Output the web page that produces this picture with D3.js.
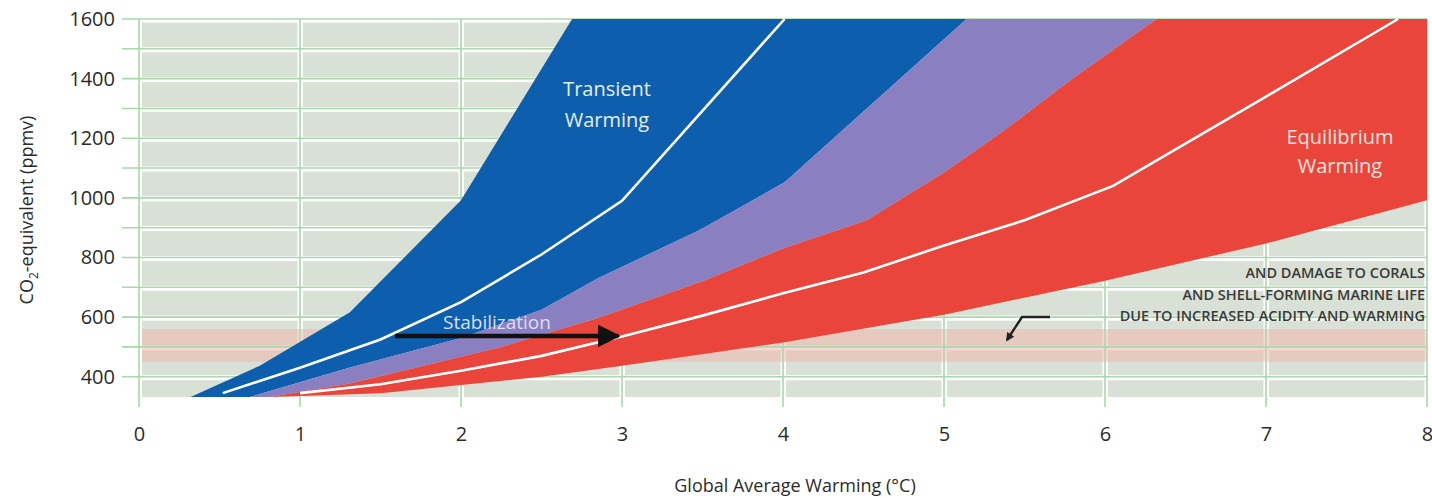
<!DOCTYPE html>
<html>
<head>
<meta charset="utf-8">
<script src="https://cdn.jsdelivr.net/npm/d3@7"></script>
<style>
  body { margin: 0; background: #fff; }
  text { font-family: "Open Sans", "Noto Sans", sans-serif; }
</style>
</head>
<body>
<svg id="chart" width="1432" height="498"></svg>
<script>
// axis ticks
const xTicks = [0, 1, 2, 3, 4, 5, 6, 7, 8];
const yTicks = [400, 600, 800, 1000, 1200, 1400, 1600];
const yGridLines = [400, 500, 600, 700, 800, 900, 1000, 1100, 1200, 1300, 1400, 1500, 1600];

// band boundaries, [warming degC, ppmv]
const transientLeft = [[0.32, 332], [0.75, 437], [1.31, 616], [2.0, 992], [2.69, 1600]];
const transientRight = [[0.69, 332], [1.31, 431], [2.0, 530], [2.5, 625], [2.86, 733], [3.48, 891], [4.01, 1052], [5.14, 1600]];
const equilibriumUpper = [[0.81, 332], [1.31, 377], [2.24, 498], [2.86, 599], [3.5, 720], [4.0, 830], [4.52, 925], [5.0, 1085], [5.35, 1217], [5.8, 1400], [6.32, 1600]];
const equilibriumLower = [[0.81, 332], [1.0, 335], [1.5, 345], [2.0, 372], [2.5, 400], [3.0, 437], [4.0, 515], [5.0, 608], [6.0, 722], [7.0, 847], [8.0, 992]];

// central estimates
const transientCentral = [[0.52, 345], [1.0, 430], [1.5, 525], [2.0, 650], [2.5, 810], [3.0, 990], [4.01, 1600]];
const equilibriumCentral = [[1.0, 345], [1.5, 375], [2.0, 420], [2.5, 470], [3.0, 535], [3.5, 605], [4.0, 680], [4.5, 750], [5.0, 840], [5.5, 925], [6.05, 1040], [7.0, 1340], [7.82, 1600]];

// coral damage band (ppmv)
const acidBand = [450, 560];
const stabilization = [[1.59, 537], [2.99, 537]];
const coralNote = ['AND DAMAGE TO CORALS', 'AND SHELL-FORMING MARINE LIFE', 'DUE TO INCREASED ACIDITY AND WARMING'];

const svg = d3.select('#chart');
const margin = { left: 139, right: 5, top: 19, bottom: 101 };
const W = 1432, H = 498;

const x = d3.scaleLinear().domain([0, 8]).range([margin.left, W - margin.right]);
const y = d3.scaleLinear().domain([332, 1600]).range([H - margin.bottom, margin.top]);

const green = '#a9d8aa';

// grey cells between grid lines
const cellG = svg.append('g');
const yEdges = [y.domain()[0]].concat(yGridLines);
for (let i = 0; i < xTicks.length - 1; i++) {
  for (let j = 0; j < yEdges.length - 1; j++) {
    const x0 = x(xTicks[i]) + 3, x1 = x(xTicks[i + 1]) - 2.5;
    const yb = y(yEdges[j]) - (j === 0 ? 0 : 1.5), yt = y(yEdges[j + 1]) + 3.5;
    cellG.append('rect')
      .attr('x', x0).attr('y', yt)
      .attr('width', x1 - x0).attr('height', yb - yt)
      .attr('fill', '#d9e0d5');
  }
}

// acidity band
svg.append('rect')
  .attr('x', x(0) + 3).attr('y', y(acidBand[1]))
  .attr('width', x(8) - x(0) - 3).attr('height', y(acidBand[0]) - y(acidBand[1]))
  .attr('fill', '#f0b7ad').attr('opacity', 0.55);

// grid lines
svg.append('g').selectAll('line.h')
  .data(yGridLines).enter().append('line')
  .attr('x1', 122).attr('x2', x(8))
  .attr('y1', d => y(d)).attr('y2', d => y(d))
  .attr('stroke', green).attr('stroke-width', 1.6);
svg.append('g').selectAll('line.v')
  .data(xTicks).enter().append('line')
  .attr('x1', d => x(d)).attr('x2', d => x(d))
  .attr('y1', y(1600)).attr('y2', y(y.domain()[0]) + 10)
  .attr('stroke', green).attr('stroke-width', 1.6);

// bands
const poly = d3.line().x(d => x(d[0])).y(d => y(d[1]));
const bands = [
  { pts: transientLeft.concat(transientRight.slice().reverse()), color: '#0d5fae' },
  { pts: transientRight.concat(equilibriumUpper.slice().reverse()), color: '#8a80c1' },
  { pts: equilibriumUpper.concat([[x.domain()[1], y.domain()[1]]], equilibriumLower.slice().reverse()), color: '#e9453a' }
];
svg.append('g').selectAll('path')
  .data(bands).enter().append('path')
  .attr('d', d => poly(d.pts) + 'Z')
  .attr('fill', d => d.color);

// central lines
svg.append('g').selectAll('path')
  .data([transientCentral, equilibriumCentral]).enter().append('path')
  .attr('d', poly)
  .attr('fill', 'none')
  .attr('stroke', '#fff')
  .attr('stroke-width', 2.6);

// axes
const xAxis = svg.append('g')
  .attr('transform', `translate(0,${y(y.domain()[0])})`)
  .call(d3.axisBottom(x).tickValues(xTicks).tickSize(0).tickPadding(30).tickFormat(d3.format('d')));
const yAxis = svg.append('g')
  .attr('transform', `translate(${margin.left},0)`)
  .call(d3.axisLeft(y).tickValues(yTicks).tickSize(0).tickPadding(24).tickFormat(d3.format('d')));
[xAxis, yAxis].forEach(a => {
  a.select('.domain').remove();
  a.selectAll('text').attr('font-size', 20).attr('fill', '#2b2b2b')
    .style('font-family', '"Open Sans", sans-serif');
});

// axis titles
svg.append('text')
  .attr('x', 795).attr('y', 492)
  .attr('text-anchor', 'middle')
  .attr('font-size', 18).attr('fill', '#2b2b2b')
  .text('Global Average Warming (°C)');

const yt = svg.append('text')
  .attr('transform', 'translate(33,210) rotate(-90)')
  .attr('text-anchor', 'middle')
  .attr('font-size', 18).attr('fill', '#2b2b2b');
yt.append('tspan').text('CO');
yt.append('tspan').attr('font-size', 12).attr('dy', 5).text('2');
yt.append('tspan').attr('dy', -5).text('-equivalent (ppmv)');

// band labels
function label(lines, cx, cy, size, color, gap) {
  const t = svg.append('text')
    .attr('text-anchor', 'middle')
    .attr('font-size', size).attr('fill', color);
  lines.forEach((s, i) => {
    t.append('tspan').attr('x', cx).attr('y', cy + i * gap).text(s);
  });
}
label(['Transient', 'Warming'], 607, 96, 20, '#e6edf7', 31);
label(['Equilibrium', 'Warming'], 1340, 144, 20, '#fbe3df', 29);
label(['Stabilization'], 497, 329, 19, '#dcdff5', 0);

// stabilization arrow
svg.append('defs').append('marker')
  .attr('id', 'head').attr('viewBox', '0 0 10 10')
  .attr('refX', 9).attr('refY', 5)
  .attr('markerWidth', 7.5).attr('markerHeight', 5)
  .attr('markerUnits', 'strokeWidth')
  .attr('orient', 'auto')
  .append('path').attr('d', 'M0,0L10,5L0,10Z').attr('fill', '#111');
svg.append('line')
  .attr('x1', x(stabilization[0][0])).attr('y1', y(stabilization[0][1]))
  .attr('x2', x(stabilization[1][0]) - 2).attr('y2', y(stabilization[1][1]))
  .attr('stroke', '#111').attr('stroke-width', 4.5)
  .attr('marker-end', 'url(#head)');

// coral note
const note = svg.append('text')
  .attr('text-anchor', 'end')
  .attr('font-size', 14.5).attr('font-weight', 600).attr('fill', '#3a3a3a');
coralNote.forEach((s, i) => {
  note.append('tspan').attr('x', 1425).attr('y', 278 + i * 21.5).text(s);
});

// small bent arrow
svg.append('defs').append('marker')
  .attr('id', 'head2').attr('viewBox', '0 0 10 10')
  .attr('refX', 8).attr('refY', 5)
  .attr('markerWidth', 4).attr('markerHeight', 3.5)
  .attr('markerUnits', 'strokeWidth')
  .attr('orient', 'auto')
  .append('path').attr('d', 'M0,0L10,5L0,10Z').attr('fill', '#222');
svg.append('path')
  .attr('d', 'M1050,317L1022,317L1007,340')
  .attr('fill', 'none').attr('stroke', '#222').attr('stroke-width', 2.4)
  .attr('marker-end', 'url(#head2)');
</script>
</body>
</html>
